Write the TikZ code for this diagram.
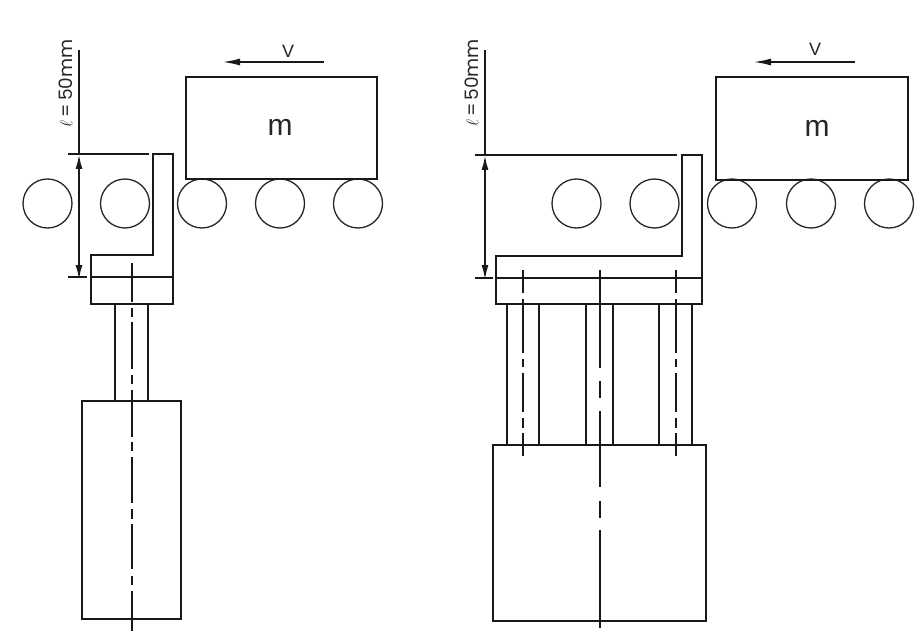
\documentclass[tikz,border=0pt]{standalone}
\usepackage{fontspec}
\setmainfont{Liberation Sans}
\newfontfamily\widefont{Poppins}
\usetikzlibrary{arrows.meta}
\tikzset{
  heavy/.style={draw=black!90,line width=2pt},
  roller/.style={draw=black!85,line width=1.3pt,circle,minimum size=49pt,inner sep=0pt},
  centre/.style={draw=black!90,line width=2pt},
  flowtip/.style={-{Latex[length=18pt,width=7pt]}},
  dim/.style={draw=black!90,line width=2pt,{Latex[length=15pt,width=7pt]}-{Latex[length=15pt,width=7pt]}},
  txt/.style={inner sep=0pt,text=black!85},
  mass/.style={txt,font=\fontsize{30}{30}\selectfont},
  vel/.style={txt,font=\fontsize{18}{18}\selectfont},
  lenlab/.style={txt,rotate=90,font=\widefont\fontsize{18.5}{18.5}\selectfont},
}
\begin{document}
\begin{tikzpicture}[x=1pt,y=-1pt]
\useasboundingbox (0,0) rectangle (920,644);
% left machine
\foreach \n/\x in {a/47.5,b/125,c/202,d/280,e/358}{\node[roller] (l\n) at (\x,203.5) {};}
\node[heavy,rectangle,minimum width=191pt,minimum height=102pt,inner sep=0pt] (lm) at (281.5,128) {};
\node[mass] (lmt) at (280,127) {m};
\coordinate (lva) at (324,62);\coordinate (lvb) at (222,62);
\draw[heavy,flowtip] (lva) -- (lvb);
\node[vel] (lv) at (288,51) {V};
\draw[heavy] (153,154) -- (153,255) -- (91,255) -- (91,304) -- (173,304) -- (173,154) -- cycle;
\draw[heavy] (91,277) -- (173,277);
\draw[heavy] (115,304) -- (115,400.5) (148,304) -- (148,400.5);
\draw[heavy] (82,400.5) rectangle (181,619);
\coordinate (lc1) at (132,263);\coordinate (lc2) at (132,631);
\draw[centre,dash pattern=on 39pt off 6pt on 9pt off 5pt on 47pt off 6pt on 9pt off 6pt on 47pt off 5pt on 9pt off 6pt on 46pt off 6pt on 10pt off 5pt on 45pt off 7pt on 9pt off 6pt on 40pt off 9pt] (lc1) -- (lc2);
\coordinate (ld1) at (79,50);\coordinate (ld2) at (79,154);\coordinate (ld3) at (79,280);
\draw[heavy] (ld1) -- (ld2);
\draw[dim] (ld2) -- (ld3);
\draw[heavy] (68,154) -- (149,154) (68,277) -- (87,277);
\node[lenlab] (ll) at (65.5,83.5) {$\ell$\,=\,50mm};
% right machine
\foreach \n/\x in {a/576.5,b/654.5,c/732,d/811,e/889}{\node[roller] (r\n) at (\x,203.5) {};}
\node[heavy,rectangle,minimum width=192pt,minimum height=103pt,inner sep=0pt] (rm) at (812,128.5) {};
\node[mass] (rmt) at (817,128) {m};
\coordinate (rva) at (855,62);\coordinate (rvb) at (753,62);
\draw[heavy,flowtip] (rva) -- (rvb);
\node[vel] (rv) at (815,49) {V};
\draw[heavy] (682,155) -- (682,256) -- (496,256) -- (496,304) -- (702,304) -- (702,155) -- cycle;
\draw[heavy] (496,278) -- (702,278);
\foreach \x in {507,539,586,613,659,692}{\draw[heavy] (\x,304) -- (\x,445);}
\draw[heavy] (493,445) rectangle (706,621);
\foreach \x in {523,676}{\draw[centre,dash pattern=on 23pt off 6pt on 54pt off 6pt on 8pt off 6pt on 39pt off 6pt on 10pt off 5pt on 23pt off 9pt] (\x,270) -- (\x,456);}
\draw[centre,dash pattern=on 98pt off 13pt on 17pt off 13pt on 76pt off 14pt on 17pt off 12pt on 98pt off 9pt] (600,270) -- (600,628);
\coordinate (rd1) at (485,50);\coordinate (rd2) at (485,155);\coordinate (rd3) at (485,280);
\draw[heavy] (rd1) -- (rd2);
\draw[dim] (rd2) -- (rd3);
\draw[heavy] (475,155) -- (677,155) (475,278) -- (493,278);
\node[lenlab] (rl) at (471.5,83) {$\ell$\,=\,50mm};
\end{tikzpicture}
\end{document}
